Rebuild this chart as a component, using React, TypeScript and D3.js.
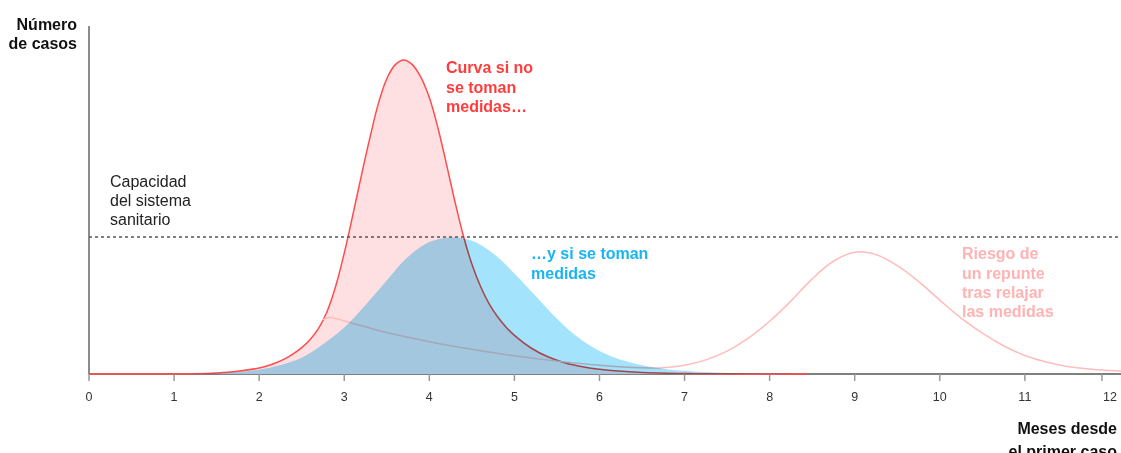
import React, { useEffect, useRef } from 'react';
import * as d3 from 'd3';

// [mes, casos] (escala arbitraria, pico sin medidas = 100)
const sinMedidas: [number, number][] = [
  [0, 0], [1, 0], [1.25, 0.1], [1.5, 0.35], [1.75, 0.9], [2.0, 1.9],
  [2.1, 2.6], [2.2, 3.6], [2.3, 4.8], [2.4, 6.4], [2.5, 8.4], [2.6, 11.0],
  [2.7, 14.6], [2.8, 20], [2.9, 28], [3.0, 38.5], [3.1, 50.5], [3.2, 63],
  [3.3, 75], [3.4, 86], [3.5, 94], [3.6, 98.5], [3.7, 100], [3.8, 98.5],
  [3.9, 94.5], [4.0, 88], [4.1, 78.5], [4.2, 67], [4.3, 55], [4.4, 44],
  [4.5, 35], [4.6, 28], [4.7, 22.5], [4.8, 18.3], [4.9, 15], [5.0, 12.3],
  [5.2, 8.2], [5.4, 5.4], [5.6, 3.5], [5.8, 2.3], [6.0, 1.5], [6.5, 0.5],
  [7.0, 0.15], [7.5, 0.03], [8.45, 0],
];

const conMedidas: [number, number][] = [
  [1.2, 0], [1.5, 0.2], [1.75, 0.6], [2.0, 1.4], [2.25, 2.9], [2.5, 5.2],
  [2.75, 9.5], [3.0, 14.8], [3.25, 22], [3.5, 29.8], [3.75, 37.3],
  [4.0, 42], [4.25, 43.5], [4.5, 42.4], [4.75, 38.4], [5.0, 32],
  [5.25, 24.8], [5.5, 17.6], [5.75, 11.6], [6.0, 7.3], [6.25, 4.5],
  [6.5, 2.8], [6.75, 1.7], [7.0, 1.0], [7.5, 0.3], [8.0, 0.05], [8.45, 0],
];

const repunte: [number, number][] = [
  [2.75, 17.2], [2.82, 18.0], [3.0, 16.9], [3.5, 13.2], [4.0, 10.3],
  [4.5, 7.9], [5.0, 5.8], [5.5, 4.1], [6.0, 2.8], [6.5, 2.0], [6.75, 2.0],
  [7.0, 2.8], [7.25, 4.5], [7.5, 7.3], [7.75, 11.4], [8.0, 16.8],
  [8.25, 23.2], [8.5, 30.3], [8.75, 35.9], [9.0, 38.8], [9.25, 38.0],
  [9.5, 34.5], [9.75, 29.5], [10.0, 23.5], [10.25, 17.8], [10.5, 13.0],
  [10.75, 9.0], [11.0, 5.9], [11.25, 3.8], [11.5, 2.4], [11.75, 1.6],
  [12.0, 1.1], [12.13, 0.9],
];

const capacidad = 43.6;
const mesesTicks = [0, 1, 2, 3, 4, 5, 6, 7, 8, 9, 10, 11, 12];

const labelSinMedidas = ['Curva si no', 'se toman', 'medidas…'];
const labelConMedidas = ['…y si se toman', 'medidas'];
const labelRepunte = ['Riesgo de', 'un repunte', 'tras relajar', 'las medidas'];
const labelCapacidad = ['Capacidad', 'del sistema', 'sanitario'];
const labelY = ['Número', 'de casos'];
const labelX = ['Meses desde', 'el primer caso'];

const App = () => {
  const ref = useRef<SVGSVGElement>(null);

  useEffect(() => {
    const svg = d3.select(ref.current);
    svg.selectAll('*').remove();

    const width = 1121;
    const font = '"Liberation Sans", Arial, sans-serif';

    const x = d3.scaleLinear().domain([0, 12.13]).range([89, 1121]);
    const y = d3.scaleLinear().domain([0, 110.8]).range([374, 26]);

    const curve = d3.curveCatmullRom.alpha(0.5);
    const area = d3.area<[number, number]>()
      .x(d => x(d[0]))
      .y0(y(0))
      .y1(d => y(d[1]))
      .curve(curve);
    const line = d3.line<[number, number]>()
      .x(d => x(d[0]))
      .y(d => y(d[1]))
      .curve(curve);

    // ejes
    svg.append('line')
      .attr('x1', x(0)).attr('x2', x(0))
      .attr('y1', y(110.8)).attr('y2', y(0))
      .attr('stroke', '#666').attr('stroke-width', 1.5);
    svg.append('line')
      .attr('x1', x(0)).attr('x2', width)
      .attr('y1', y(0)).attr('y2', y(0))
      .attr('stroke', '#555').attr('stroke-width', 1.5);

    const ticks = svg.append('g');
    ticks.selectAll('line')
      .data(mesesTicks)
      .join('line')
        .attr('x1', d => (d === 12 ? x(d) - 8 : x(d)))
        .attr('x2', d => (d === 12 ? x(d) - 8 : x(d)))
        .attr('y1', y(0)).attr('y2', y(0) + 7)
        .attr('stroke', '#999').attr('stroke-width', 1.5);
    ticks.selectAll('text')
      .data(mesesTicks)
      .join('text')
        .attr('x', d => x(d))
        .attr('y', y(0) + 27)
        .attr('text-anchor', 'middle')
        .attr('font-family', font)
        .attr('font-size', 12.5)
        .attr('fill', '#333')
        .text(d => d);

    // curvas
    svg.append('path')
      .attr('d', area(sinMedidas))
      .attr('fill', '#ffe0e2');
    svg.append('path')
      .attr('d', line(sinMedidas))
      .attr('fill', 'none')
      .attr('stroke', '#ff4d4d')
      .attr('stroke-width', 1.5);
    svg.append('path')
      .attr('d', line(repunte))
      .attr('fill', 'none')
      .attr('stroke', '#ffbcbc')
      .attr('stroke-width', 1.5);
    svg.append('path')
      .attr('d', area(conMedidas))
      .attr('fill', '#a3e3fb')
      .style('mix-blend-mode', 'multiply');

    // capacidad
    svg.append('line')
      .attr('x1', x(0)).attr('x2', width)
      .attr('y1', y(capacidad)).attr('y2', y(capacidad))
      .attr('stroke', '#555')
      .attr('stroke-width', 1.5)
      .attr('stroke-dasharray', '3,3');

    const block = (lines: string[], px: number, py: number, color: string,
      weight: string, anchor = 'start', lh = 19.3) => {
      svg.append('g').selectAll('text')
        .data(lines)
        .join('text')
          .attr('x', px)
          .attr('y', (d, i) => py + i * lh)
          .attr('text-anchor', anchor)
          .attr('font-family', font)
          .attr('font-size', 16)
          .attr('font-weight', weight)
          .attr('fill', color)
          .text(d => d);
    };

    block(labelY, 77, 29.5, '#111', 'bold', 'end', 19);
    block(labelX, 1117, 434, '#111', 'bold', 'end', 23);
    block(labelCapacidad, 110, 186.7, '#222', 'normal');
    block(labelSinMedidas, 446, 73.3, '#ff3d3d', 'bold');
    block(labelConMedidas, 531, 259.3, '#1ab4f2', 'bold');
    block(labelRepunte, 962, 259.3, '#ffb3b3', 'bold');
  }, []);

  return (
    <svg ref={ref} width={1121} height={453}
      style={{ position: 'absolute', left: 0, top: 0, background: '#fff' }} />
  );
};

export default App;
